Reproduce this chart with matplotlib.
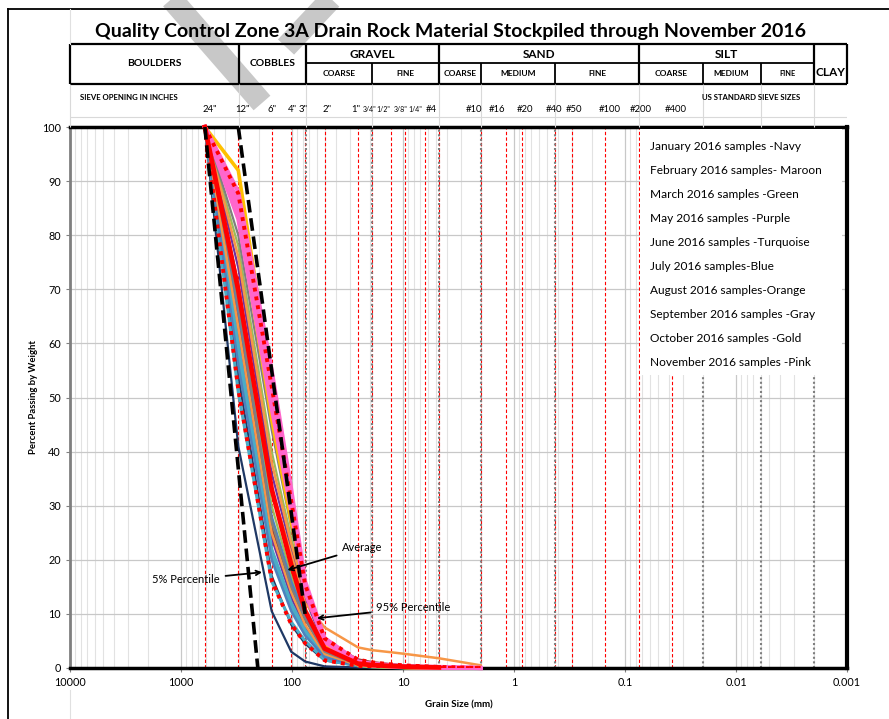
import numpy as np
import matplotlib
matplotlib.use('Agg')
import matplotlib.pyplot as plt
from matplotlib.lines import Line2D
from matplotlib.patches import Rectangle
from matplotlib.transforms import offset_copy
from matplotlib.ticker import LogLocator, NullFormatter

plt.rcParams['font.family'] = ['Lato', 'DejaVu Sans']

# sieves used for the gradation tests (mm): 24" 12" 6" 4" 3" 2" 1" 3/4" 1/2" 3/8" #4 #10
sieve_mm = [609.6, 304.8, 152.4, 101.6, 76.2, 50.8, 25.4, 19.05, 12.7, 9.525, 4.75, 2.0]

# percent passing, one row per sample
jan = [[100, 41, 10.5, 3.0, 1.2, 0.3, 0.1, 0.1, 0.0, 0.0, 0.0, 0.0],
       [100, 54, 17, 8.0, 4.5, 1.4, 0.4, 0.3, 0.2, 0.1, 0.0, 0.0]]
feb = [[100, 71, 33, 21, 13, 5.0, 1.6, 1.1, 0.7, 0.5, 0.2, 0.0],
       [100, 64, 26, 15, 9.0, 3.0, 0.8, 0.5, 0.3, 0.2, 0.1, 0.0]]
mar = [[100, 68, 30, 17, 10, 3.5, 0.6, 0.4, 0.2, 0.1, 0.0, 0.0],
       [100, 78, 40, 24, 14, 4.2, 0.7, 0.4, 0.2, 0.1, 0.0, 0.0]]
may = [[100, 74, 36, 22, 13, 4.0, 0.6, 0.4, 0.2, 0.1, 0.0, 0.0],
       [100, 61, 24, 13, 7.5, 2.4, 0.5, 0.3, 0.2, 0.1, 0.0, 0.0]]
jun = [[100, 51, 16, 8.5, 5.0, 1.5, 0.4, 0.2, 0.1, 0.0, 0.0, 0.0],
       [100, 58, 21, 11, 6.5, 2.0, 0.5, 0.3, 0.2, 0.1, 0.0, 0.0],
       [100, 60, 22, 12, 7.0, 2.2, 0.5, 0.3, 0.2, 0.1, 0.0, 0.0]]
jul = [[100, 56, 20, 10.5, 6.0, 2.0, 0.4, 0.3, 0.2, 0.1, 0.0, 0.0],
       [100, 66, 28, 16, 9.5, 3.0, 0.6, 0.4, 0.2, 0.1, 0.0, 0.0]]
aug = [[100, 70, 33, 21, 12, 7.5, 3.8, 3.3, 2.9, 2.6, 1.8, 0.5],
       [100, 63, 25, 14, 8.0, 2.6, 0.5, 0.3, 0.2, 0.1, 0.0, 0.0],
       [100, 76, 38, 23, 14, 4.2, 0.7, 0.4, 0.2, 0.1, 0.0, 0.0]]
sep = [[100, 67, 27, 15, 9.0, 3.0, 0.6, 0.4, 0.2, 0.1, 0.0, 0.0],
       [100, 80, 44, 26, 15, 4.6, 0.8, 0.5, 0.3, 0.1, 0.0, 0.0]]
octo = [[100, 92, 52, 28, 15, 4.5, 0.6, 0.3, 0.2, 0.1, 0.0, 0.0],
        [100, 84, 46, 27, 15.5, 4.8, 0.8, 0.5, 0.3, 0.1, 0.0, 0.0]]
nov = [[100, 88, 55, 33, 16, 5.5, 1.2, 0.8, 0.5, 0.3, 0.2, 0.0],
       [100, 86, 52, 31, 15, 5.2, 1.0, 0.6, 0.4, 0.2, 0.1, 0.0],
       [100, 85, 50, 30, 14.5, 5.0, 0.9, 0.5, 0.3, 0.2, 0.1, 0.0],
       [100, 83, 48, 29, 14, 4.8, 0.8, 0.5, 0.3, 0.2, 0.1, 0.0]]

months = [jan, feb, mar, may, jun, jul, aug, sep, octo, nov]
month_colors = ['#1F3864', '#953735', '#9BBB59', '#7030A0', '#4BACC6',
                '#4F81BD', '#F79646', '#7F7F7F', '#FFC000', '#FF66CC']
month_lw = [1.6, 1.6, 1.6, 1.6, 2.2, 1.8, 1.8, 1.6, 2.6, 3.0]

legend_lines = ['January 2016 samples -Navy', 'February 2016 samples- Maroon',
                'March 2016 samples -Green', 'May 2016 samples -Purple',
                'June 2016 samples -Turquoise', 'July 2016 samples-Blue',
                'August 2016 samples-Orange', 'September 2016 samples -Gray',
                'October 2016 samples -Gold', 'November 2016 samples -Pink']

# spec band (black dashed)
spec_fine_mm, spec_fine_pct = [609.6, 203.2], [100, 0]
spec_coarse_mm, spec_coarse_pct = [304.8, 76.2], [100, 10]

# all sieve sizes marked on the chart
mark_mm = [609.6, 304.8, 152.4, 101.6, 76.2, 50.8, 25.4, 19.05, 12.7, 9.525, 6.35,
           4.75, 2.0, 1.18, 0.85, 0.425, 0.3, 0.15, 0.075, 0.0375]
mark_lbl = ['24"', '12"', '6"', '4"', '3"', '2"', '1"', '3/4"', '1/2"', '3/8"', '1/4"',
            '#4', '#10', '#16', '#20', '#40', '#50', '#100', '#200', '#400']
mark_nudge = [12, 12, 5, 6, 3, 7, 2, 5, -1, 2, -3, -2, 2, -1, 11, 7, 10, 15, 13, 14]

# soil classification boundaries (mm)
zone_full = [300, 75, 4.75, 0.075, 0.002]
zone_sub = [19, 2.0, 0.425, 0.02, 0.006]
zone_gray = [75, 19, 4.75, 2.0, 0.425, 0.02, 0.006, 0.002]

W, H = 889, 719
def fx(px):
    return px / W
def fy(py):
    return 1 - py / H

fig = plt.figure(figsize=(8.89, 7.19), dpi=100)
ax = fig.add_axes([fx(70), fy(668), fx(847) - fx(70), fy(127) - fy(668)])
ax.set_xscale('log')
ax.set_xlim(10000, 0.001)
ax.set_ylim(0, 100)

for s in mark_mm:
    ax.axvline(s, color='red', lw=0.8, ls=(0, (3, 2)), zorder=1.5)
for b in zone_gray:
    ax.axvline(b, color='#7f7f7f', lw=1.5, ls=(0, (1, 1.2)), zorder=1.6)

for rows, c, lw in zip(months, month_colors, month_lw):
    for r in rows:
        ax.plot(sieve_mm, r, color=c, lw=lw, zorder=3, clip_on=False)

allrows = np.array([r for rows in months for r in rows])
avg = allrows.mean(axis=0)
p05 = np.percentile(allrows, 5, axis=0)
p95 = np.percentile(allrows, 95, axis=0)
ax.plot(sieve_mm[:11], avg[:11], color='red', lw=3.4, zorder=4, clip_on=False)
ax.plot(sieve_mm, p05, color='red', lw=2.8, ls=(0, (1, 1.3)), zorder=4)
ax.plot(sieve_mm, p95, color='red', lw=2.8, ls=(0, (1, 1.3)), zorder=4)

ax.plot(spec_fine_mm, spec_fine_pct, color='k', lw=2.6, ls=(0, (3.5, 1.6)), zorder=5)
ax.plot(spec_coarse_mm, spec_coarse_pct, color='k', lw=2.6, ls=(0, (3.5, 1.6)), zorder=5)

# grid / axes
ax.set_axisbelow(True)
ax.xaxis.set_minor_locator(LogLocator(base=10, subs=range(2, 10), numticks=30))
ax.xaxis.set_minor_formatter(NullFormatter())
ax.grid(True, which='major', color='#c8c8c8', lw=0.9)
ax.grid(True, which='minor', axis='x', color='#e2e2e2', lw=0.8)
ax.set_xticks([10000, 1000, 100, 10, 1, 0.1, 0.01, 0.001])
ax.set_xticklabels(['10000', '1000', '100', '10', '1', '0.1', '0.01', '0.001'])
ax.set_yticks(range(0, 101, 10))
ax.tick_params(axis='both', which='major', labelsize=7.8, length=3, color='#808080')
ax.tick_params(axis='x', which='minor', length=0)
ax.set_xlabel('Grain Size (mm)', fontsize=7, fontweight='bold', labelpad=9)
ax.set_ylabel('Percent Passing by Weight', fontsize=6.8, fontweight='bold', labelpad=3)
for side, lw in [('top', 2.5), ('right', 3), ('bottom', 2.5)]:
    ax.spines[side].set_linewidth(lw)
ax.spines['left'].set_color('#7f7f7f')
ax.spines['left'].set_linewidth(2)

# month list box
ax.add_patch(Rectangle((0.734, 0.542), 0.26, 0.454, transform=ax.transAxes,
                       facecolor='white', edgecolor='none', zorder=6))
for i, t in enumerate(legend_lines):
    ax.text(0.7465, (668 - (147 + 23.9 * i)) / 541, t, transform=ax.transAxes,
            fontsize=8.6, va='center', ha='left', zorder=7)

# callouts
arrow = dict(arrowstyle='->', color='k', lw=1.3, shrinkA=2, shrinkB=0)
ax.annotate('Average', xy=(110, 18.1), xytext=(35.4, 22.2), fontsize=8,
            ha='left', va='center', arrowprops=arrow, zorder=8)
ax.annotate('5% Percentile', xy=(186, 17.7), xytext=(445, 16.3), fontsize=8,
            ha='right', va='center', arrowprops=arrow, zorder=8)
ax.annotate('95% Percentile', xy=(59.6, 9.2), xytext=(17.5, 11.1), fontsize=8,
            ha='left', va='center', arrowprops=arrow, zorder=8)

# header table above the plot, x in mm, y in pixels
hdr = fig.add_axes([fx(70), fy(127), fx(847) - fx(70), fy(44) - fy(127)])
hdr.set_xscale('log')
hdr.set_xlim(10000, 0.001)
hdr.set_ylim(127, 44)
hdr.axis('off')
hdr.hlines([44, 84], 10000, 0.001, color='k', lw=1.6, clip_on=False)
hdr.hlines(63, 75, 0.002, color='k', lw=1.3)
hdr.vlines([10000, 0.001] + zone_full, 44, 84, color='k', lw=1.6, clip_on=False)
hdr.vlines(zone_sub, 63, 84, color='k', lw=1.3)
hdr.vlines([10000] + zone_full + zone_sub, 84, 127, color='#d9d9d9', lw=0.8, clip_on=False)
hdr.hlines(117, 10000, 0.001, color='#d9d9d9', lw=0.8)

def gm(a, b):
    return np.sqrt(a * b)

big = dict(fontweight='bold', ha='center', va='center')
hdr.text(gm(10000, 300), 64, 'BOULDERS', fontsize=7.5, **big)
hdr.text(gm(300, 75), 64, 'COBBLES', fontsize=7.5, **big)
hdr.text(gm(75, 4.75), 54, 'GRAVEL', fontsize=8.5, **big)
hdr.text(gm(4.75, 0.075), 54, 'SAND', fontsize=8.5, **big)
hdr.text(gm(0.075, 0.002), 54, 'SILT', fontsize=8.5, **big)
hdr.text(gm(0.002, 0.001), 73, 'CLAY', fontsize=8.5, **big)
subs = [(75, 19, 'COARSE'), (19, 4.75, 'FINE'), (4.75, 2.0, 'COARSE'),
        (2.0, 0.425, 'MEDIUM'), (0.425, 0.075, 'FINE'), (0.075, 0.02, 'COARSE'),
        (0.02, 0.006, 'MEDIUM'), (0.006, 0.002, 'FINE')]
for a, b, t in subs:
    hdr.text(gm(a, b), 74, t, fontsize=6 if t != 'FINE' or a > 0.01 else 5.3, **big)

for s, t, dx in zip(mark_mm, mark_lbl, mark_nudge):
    tr = offset_copy(hdr.transData, fig=fig, x=dx, y=0, units='dots')
    hdr.text(s, 110, t, transform=tr, ha='right', va='center',
             fontsize=5 if '/' in t else 6.8)

fig.text(fx(80), fy(97), 'SIEVE OPENING IN INCHES', fontsize=5.6, fontweight='bold',
         va='center')
fig.text(fx(702), fy(97), 'US STANDARD SIEVE SIZES', fontsize=5.6, fontweight='bold',
         va='center')

fig.text(fx(450), fy(31), 'Quality Control Zone 3A Drain Rock Material Stockpiled through November 2016',
         ha='center', va='center', fontsize=14, fontweight='bold')

# page frame and watermark strokes
fig.add_artist(Line2D([fx(8), fx(8)], [fy(9), 0], color='k', lw=1.3))
fig.add_artist(Line2D([fx(8), 1], [fy(9), fy(9)], color='k', lw=1.3))
fig.add_artist(Line2D([fx(70), fx(70)], [fy(9), fy(44)], color='#e0e0e0', lw=0.8))
fig.add_artist(Line2D([fx(70), fx(70)], [fy(690), 0], color='#e0e0e0', lw=0.8))
fig.add_artist(Line2D([fx(168), fx(262)], [fy(-5), fy(103)], color='#c8c8c8',
                      lw=16, solid_capstyle='butt', zorder=-1))
fig.add_artist(Line2D([fx(335), fx(286)], [fy(-5), fy(47)], color='#c8c8c8',
                      lw=16, solid_capstyle='butt', zorder=-1))

fig.savefig('out.png', dpi=100)
